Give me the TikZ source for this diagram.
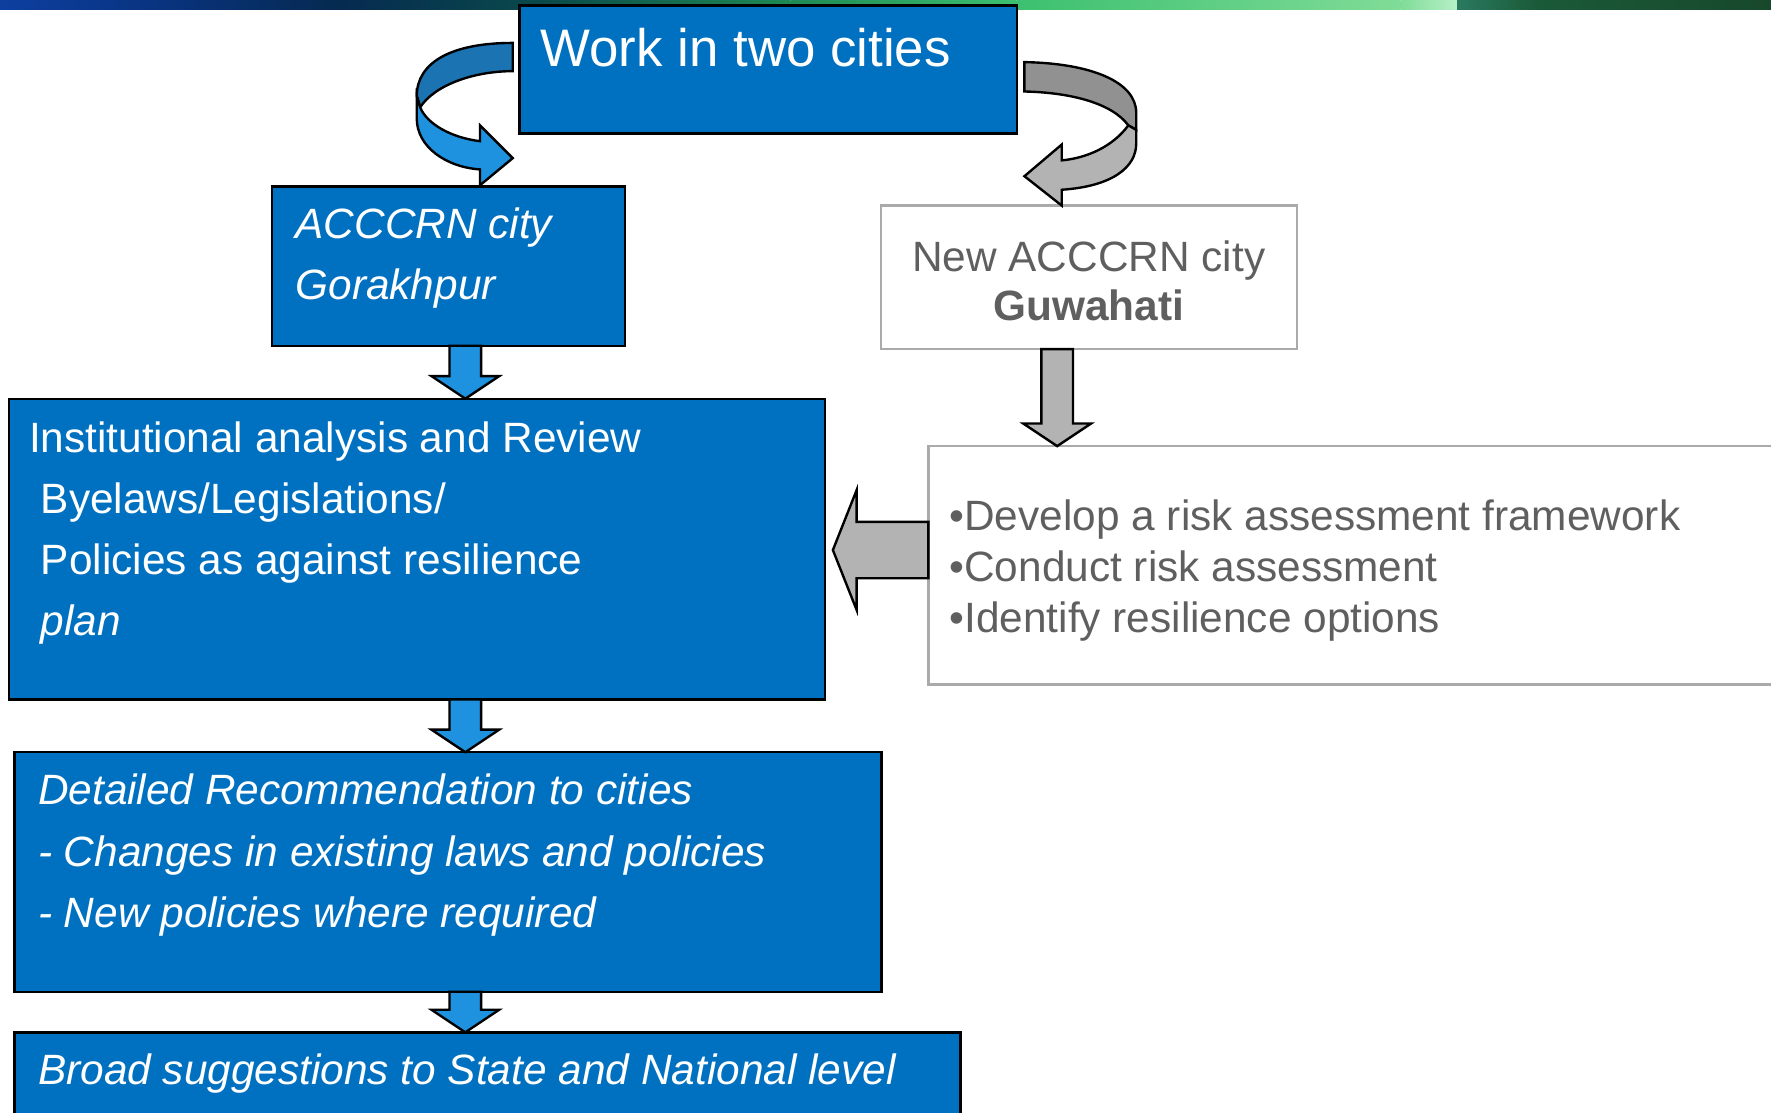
\documentclass[tikz,border=0pt]{standalone}
\usepackage{fontspec}
\setmainfont{Liberation Sans}
\usetikzlibrary{calc}

\definecolor{boxblue}{RGB}{0,112,192}
\definecolor{arrowblue}{RGB}{30,146,222}
\definecolor{ribbonblue}{RGB}{27,115,177}
\definecolor{arrowgray}{RGB}{179,179,179}
\definecolor{ribbongray}{RGB}{145,145,145}
\definecolor{textgray}{RGB}{95,95,95}
\definecolor{edgegray}{RGB}{170,170,170}
\definecolor{bandA}{RGB}{13,63,160}
\definecolor{bandB}{RGB}{9,52,130}
\definecolor{bandC}{RGB}{6,42,80}
\definecolor{bandD}{RGB}{10,74,74}
\definecolor{bandE}{RGB}{31,138,85}
\definecolor{bandF}{RGB}{60,192,112}
\definecolor{bandG}{RGB}{128,220,152}
\definecolor{bandH}{RGB}{184,240,200}
\definecolor{bandI}{RGB}{42,122,96}
\definecolor{bandJ}{RGB}{26,90,56}
\definecolor{bandK}{RGB}{24,72,44}

\begin{document}
\begin{tikzpicture}[x=0.01cm, y=-0.01cm,
    bluebox/.style={draw=black, fill=boxblue, line width=0.6pt, anchor=north west, inner sep=0pt, outer sep=0pt},
    whitebox/.style={draw=edgegray, fill=white, line width=0.6pt, anchor=north west, inner sep=0pt, outer sep=0pt},
    boxtext/.style={anchor=base west, align=left, inner sep=0pt, text=white, font=\fontsize{10.67}{15.4}\selectfont},
    graytext/.style={anchor=base west, align=left, inner sep=0pt, text=textgray, font=\fontsize{10.67}{12.8}\selectfont},
    blockarrow/.style={draw=black, line width=0.6pt, line join=miter}]
                \clip (0,0) rectangle (1568,985);

                % top band of the slide
                \foreach \xa/\xb/\ca/\cb in {0/130/bandA/bandB, 130/300/bandB/bandC, 300/480/bandC/bandD,
                    480/700/bandD/bandE, 700/900/bandE/bandF, 900/1240/bandF/bandG, 1240/1291/bandG/bandH,
                    1290/1361/bandI/bandJ, 1360/1568/bandJ/bandK}
                    \shade[left color=\ca, right color=\cb] (\xa,0) rectangle (\xb,8);

                % boxes
                \node[bluebox, minimum width=4.40cm, minimum height=1.13cm] (title) at (460,5) {};
                \node[bluebox, minimum width=3.12cm, minimum height=1.41cm] (gorakhpur) at (241,165) {};
                \node[whitebox, minimum width=3.68cm, minimum height=1.27cm] (guwahati) at (780,182) {};
                \node[bluebox, minimum width=7.22cm, minimum height=2.66cm] (review) at (8,353) {};
                \node[whitebox, minimum width=7.58cm, minimum height=2.11cm] (tasks) at (822,395) {};
                \node[bluebox, minimum width=7.67cm, minimum height=2.12cm] (recommend) at (13,666) {};
                \node[bluebox, minimum width=8.37cm, minimum height=0.90cm] (broad) at (13,914) {};

                % Draw a block arrow down at x=#1 from node #2 to node #3, filled with #4
                \def\drawDownArrow#1#2#3#4{
                    \coordinate (top) at (#1,0 |- #2.south);
                    \coordinate (tip) at (#1,0 |- #3.north);
                    \filldraw[fill=#4, blockarrow] ($(top)+(-14,0)$) -- ($(tip)+(-14,-20)$) -- ($(tip)+(-30,-20)$)
                        -- (tip) -- ($(tip)+(30,-20)$) -- ($(tip)+(14,-20)$) -- ($(top)+(14,0)$) -- cycle;
                }
                % Draw a block arrow left at y=#1 from node #2 to node #3, filled with #4
                \def\drawLeftArrow#1#2#3#4{
                    \coordinate (top) at (#2.west |- 0,#1);
                    \coordinate (tip) at ($(#3.east |- 0,#1)+(7,0)$);
                    \filldraw[fill=#4, blockarrow] ($(top)+(0,-25)$) -- ($(tip)+(21,-25)$) -- ($(tip)+(21,-53)$)
                        -- (tip) -- ($(tip)+(21,53)$) -- ($(tip)+(21,25)$) -- ($(top)+(0,25)$) -- cycle;
                }

                \drawDownArrow{412}{gorakhpur}{review}{arrowblue}
                \drawDownArrow{412}{review}{recommend}{arrowblue}
                \drawDownArrow{412}{recommend}{broad}{arrowblue}
                \drawDownArrow{936}{guwahati}{tasks}{arrowgray}
                \drawLeftArrow{487}{tasks}{review}{arrowgray}

                % curved arrow from the title to Gorakhpur
                \filldraw[fill=ribbonblue, blockarrow] (454,38) .. controls (400,38) and (369,55) .. (369,85)
                    -- (372,95) .. controls (385,75) and (420,63) .. (454,63) -- cycle;
                \filldraw[fill=arrowblue, blockarrow] (369,85) -- (369,105) .. controls (369,130) and (395,148) .. (425,150)
                    -- (425,164) -- (454,140) -- (425,111) -- (425,125) .. controls (400,122) and (378,110) .. (372,95) -- cycle;

                % curved arrow from the title to Guwahati
                \filldraw[fill=ribbongray, blockarrow] (907,55) .. controls (965,56) and (1006,72) .. (1006,100)
                    -- (1006,115) -- (999,111) .. controls (985,92) and (950,82) .. (907,81) -- cycle;
                \filldraw[fill=arrowgray, blockarrow] (999,111) .. controls (985,130) and (962,140) .. (940,142)
                    -- (940,128) -- (907,156) -- (940,182) -- (940,168) .. controls (985,165) and (1006,148) .. (1006,127)
                    -- (1006,115) -- cycle;

                % texts (placed at the baseline of their last line)
                \node[boxtext, font=\fontsize{13.3}{16}\selectfont] (titletext) at (478,59) {Work in two cities};
                \node[boxtext, font=\fontsize{10.67}{15.4}\selectfont\itshape] (gorakhpurtext) at (261,265) {ACCCRN city\\Gorakhpur};
                \node[graytext, anchor=base, align=center, font=\fontsize{10.67}{12.5}\selectfont] (guwahatitext) at (964,284) {New ACCCRN city\\\textbf{Guwahati}};
                \node[boxtext] (reviewtext) at (25,563) {Institutional analysis and Review\\\ Byelaws/Legislations/\\\ Policies as against resilience\\\ \textit{plan}};
                \node[graytext] (taskstext) at (840,560) {•Develop a risk assessment framework\\•Conduct risk assessment\\•Identify resilience options};
                \node[boxtext, font=\fontsize{10.67}{15.4}\selectfont\itshape] (recommendtext) at (33,821) {Detailed Recommendation to cities\\- Changes in existing laws and policies\\- New policies where required};
                \node[boxtext, font=\fontsize{10.67}{15.4}\selectfont\itshape] (broadtext) at (33,960) {Broad suggestions to State and National level};
            \end{tikzpicture}
\end{document}
